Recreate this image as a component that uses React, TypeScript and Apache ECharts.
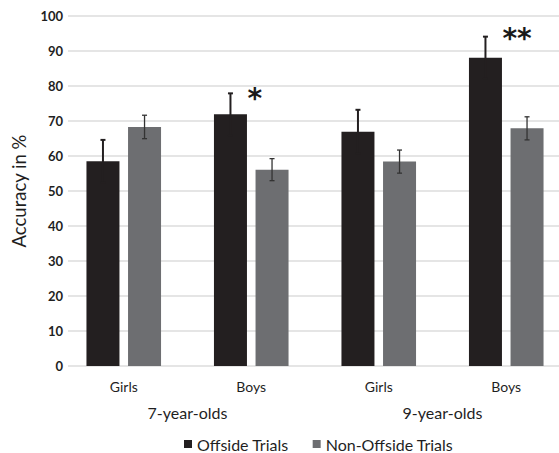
import React, { useEffect, useRef } from "react";
import * as echarts from "echarts";

const categories = ["Girls", "Boys", "Girls", "Boys"];
const ageGroups = ["7-year-olds", "9-year-olds"];
const seriesNames = ["Offside Trials", "Non-Offside Trials"];
const offsideValues = [58.5, 71.9, 66.9, 88.1];
const offsideErrors = [6.1, 6.0, 6.3, 6.0];
const nonOffsideValues = [68.3, 56.1, 58.4, 67.9];
const nonOffsideErrors = [3.35, 3.15, 3.3, 3.3];
const offsideSignificance = ["", "*", "", "**"];
const yMin = 0;
const yMax = 100;
const yInterval = 10;

const FONT = "Lato, 'Open Sans', sans-serif";
const BAR_W = 33;
const BAR_GAP = 0.26;
const OFFSET = (BAR_W * (1 + BAR_GAP)) / 2;

function errorSeries(values: number[], errors: number[], side: number, color: string, width: number, cap: number, marks: string[] | null) {
  return {
    type: "custom",
    xAxisIndex: 1,
    yAxisIndex: 1,
    z: 5,
    silent: true,
    data: values.map((v, i) => [i, v, errors[i]]),
    renderItem: (params: any, api: any) => {
      const idx = api.value(0);
      const v = api.value(1);
      const e = api.value(2);
      const top = api.coord([idx, v + e]);
      const bot = api.coord([idx, v - e]);
      const x = top[0] + side * OFFSET;
      const st = { stroke: color, lineWidth: width };
      const children: any[] = [
        { type: "line", shape: { x1: x, y1: top[1], x2: x, y2: bot[1] }, style: st },
        { type: "line", shape: { x1: x - cap / 2, y1: top[1], x2: x + cap / 2, y2: top[1] }, style: st },
        { type: "line", shape: { x1: x - cap / 2, y1: bot[1], x2: x + cap / 2, y2: bot[1] }, style: st },
      ];
      const m = marks ? marks[params.dataIndex] : "";
      if (m) {
        children.push({
          type: "text",
          style: {
            text: m,
            x: x + 17,
            y: top[1] - 9 - (m.length - 1) * 3,
            fill: "#1a1a1a",
            fontSize: 28,
            fontWeight: "bold",
            fontFamily: "'DejaVu Sans', sans-serif",
            textAlign: "left",
            textVerticalAlign: "top",
          },
        });
      }
      return { type: "group", children };
    },
  };
}

export default function App() {
  const ref = useRef<HTMLDivElement>(null);
  useEffect(() => {
    document.body.style.margin = "0";
    document.body.style.overflow = "hidden";
    document.documentElement.style.overflow = "hidden";
    const chart = echarts.init(ref.current!, null, { renderer: "svg" });
    chart.setOption({
      animation: false,
      backgroundColor: "#ffffff",
      textStyle: { fontFamily: FONT },
      grid: [
        { left: 68, top: 16, width: 491, height: 350 },
        { left: 60, top: 16, width: 510, height: 350 },
      ],
      legend: {
        left: 184,
        top: 436,
        padding: 0,
        itemWidth: 8,
        itemHeight: 8,
        itemGap: 24,
        icon: "rect",
        data: seriesNames,
        textStyle: { fontSize: 16, color: "#1f1f1f", fontFamily: FONT },
      },
      xAxis: [
        { gridIndex: 0, type: "value", min: 0, max: 1, show: false },
        {
          gridIndex: 1,
          type: "category",
          data: categories,
          axisLine: { show: false },
          axisTick: { show: false },
          axisLabel: { margin: 13, fontSize: 14, color: "#1f1f1f", fontFamily: FONT },
        },
        {
          gridIndex: 1,
          type: "category",
          data: ageGroups,
          position: "bottom",
          axisLine: { show: false },
          axisTick: { show: false },
          axisLabel: { margin: 38, fontSize: 16, color: "#1f1f1f", fontFamily: FONT },
        },
      ],
      yAxis: [
        {
          gridIndex: 0,
          type: "value",
          min: yMin,
          max: yMax,
          interval: yInterval,
          axisLine: { show: false },
          axisTick: { show: false },
          splitLine: { lineStyle: { color: "#dcdcdc", width: 1.5 } },
          axisLabel: { margin: 5, fontSize: 13, fontWeight: "bold", color: "#1f1f1f", fontFamily: FONT },
          name: "Accuracy in %",
          nameLocation: "middle",
          nameRotate: 90,
          nameGap: 40,
          nameTextStyle: { fontSize: 18.5, color: "#1f1f1f", fontFamily: FONT },
        },
        { gridIndex: 1, type: "value", min: yMin, max: yMax, show: false },
      ],
      series: [
        {
          name: seriesNames[0],
          type: "bar",
          xAxisIndex: 1,
          yAxisIndex: 1,
          data: offsideValues,
          barWidth: BAR_W,
          barGap: BAR_GAP * 100 + "%",
          itemStyle: { color: "#231f20" },
        },
        {
          name: seriesNames[1],
          type: "bar",
          xAxisIndex: 1,
          yAxisIndex: 1,
          data: nonOffsideValues,
          barWidth: BAR_W,
          barGap: BAR_GAP * 100 + "%",
          itemStyle: { color: "#6d6e71" },
        },
        errorSeries(offsideValues, offsideErrors, -1, "#231f20", 2, 5, offsideSignificance),
        errorSeries(nonOffsideValues, nonOffsideErrors, 1, "#333333", 1.3, 5, null),
      ],
    });
    return () => chart.dispose();
  }, []);
  return <div ref={ref} style={{ width: 600, height: 453 }} />;
}
